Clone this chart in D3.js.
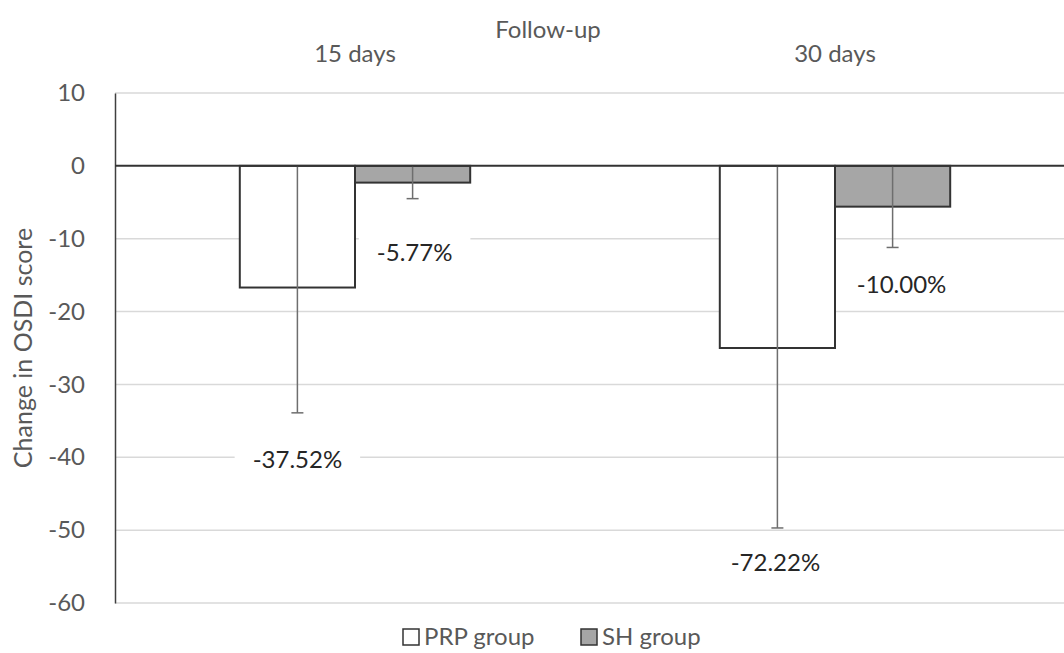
<!DOCTYPE html>
<html>
<head>
<meta charset="utf-8">
<script src="https://cdn.jsdelivr.net/npm/d3@7"></script>
<style>
  body { margin: 0; background: #fff; }
  svg { font-family: Lato, "Open Sans", sans-serif; }
</style>
</head>
<body>
<div id="chart"></div>
<script>
// data
var followups = ['15 days', '30 days'];
var groups = ['PRP group', 'SH group'];
var prpChange = [-16.7, -25.0];
var shChange = [-2.3, -5.6];
var prpErrLow = [-33.9, -49.7];   // lower end of error bar
var shErrLow = [-4.5, -11.2];
var prpPct = ['-37.52%', '-72.22%'];
var shPct = ['-5.77%', '-10.00%'];
var yTicks = [10, 0, -10, -20, -30, -40, -50, -60];

var width = 1064, height = 653;
var margin = {top: 93, right: -11, bottom: 50, left: 115};
var plotW = width - margin.left - margin.right;
var plotH = height - margin.top - margin.bottom;
var fs = '24px';

var svg = d3.select('#chart').append('svg')
  .attr('width', width)
  .attr('height', height);

var g = svg.append('g').attr('transform', 'translate(' + margin.left + ',' + margin.top + ')');

var y = d3.scaleLinear().domain([-60, 10]).range([plotH, 0]);
var x0 = d3.scaleBand().domain(followups).range([0, plotW]);
// bars take the middle ~48% of each category band
var x1 = d3.scaleBand().domain(groups)
  .range([x0.bandwidth() * 0.26, x0.bandwidth() * 0.74]);

// gridlines
g.selectAll('.grid').data(yTicks.filter(function(d) { return d !== 0; }))
  .enter().append('line')
  .attr('class', 'grid')
  .attr('x1', 0).attr('x2', plotW)
  .attr('y1', function(d) { return y(d); })
  .attr('y2', function(d) { return y(d); })
  .attr('stroke', '#d9d9d9')
  .attr('stroke-width', 1.5);

// y axis
var yAxis = g.append('g').call(d3.axisLeft(y).tickValues(yTicks).tickSize(0).tickPadding(30)
  .tickFormat(function(d) { return String(d); }));
yAxis.select('.domain').attr('stroke', '#404040').attr('stroke-width', 1.5);
yAxis.selectAll('text').attr('fill', '#595959').style('font-size', fs)
  .style('font-family', 'Lato, "Open Sans", sans-serif');

// percentage labels, hand placed like in the original (value units / px offsets)
var labelY = [[-40.3, -11.9], [-54.5, -16.3]];
var labelDx = [[0, 2], [-2, 9]];
var labels = [];
followups.forEach(function(f, i) {
  labels.push({text: prpPct[i], x: x0(f) + x1(groups[0]) + x1.bandwidth() / 2 + labelDx[i][0], v: labelY[i][0]});
  labels.push({text: shPct[i], x: x0(f) + x1(groups[1]) + x1.bandwidth() / 2 + labelDx[i][1], v: labelY[i][1]});
});

// white boxes go under the bars so they only knock out gridlines
var boxLayer = g.append('g');

var rows = followups.map(function(f, i) {
  return [
    {f: f, grp: groups[0], v: prpChange[i], lo: prpErrLow[i], fill: '#ffffff'},
    {f: f, grp: groups[1], v: shChange[i], lo: shErrLow[i], fill: '#a6a6a6'}
  ];
});

var cat = g.selectAll('.cat').data(rows).enter().append('g')
  .attr('class', 'cat')
  .attr('transform', function(d) { return 'translate(' + x0(d[0].f) + ',0)'; });

cat.selectAll('rect').data(function(d) { return d; }).enter().append('rect')
  .attr('x', function(d) { return x1(d.grp); })
  .attr('width', x1.bandwidth())
  .attr('y', y(0))
  .attr('height', function(d) { return y(d.v) - y(0); })
  .attr('fill', function(d) { return d.fill; })
  .attr('stroke', '#333')
  .attr('stroke-width', 2);

// error bars
var eb = cat.selectAll('.err').data(function(d) { return d; }).enter().append('g').attr('class', 'err');
eb.append('line')
  .attr('x1', function(d) { return x1(d.grp) + x1.bandwidth() / 2; })
  .attr('x2', function(d) { return x1(d.grp) + x1.bandwidth() / 2; })
  .attr('y1', y(0))
  .attr('y2', function(d) { return y(d.lo); })
  .attr('stroke', '#6e6e6e').attr('stroke-width', 1.5);
eb.append('line')
  .attr('x1', function(d) { return x1(d.grp) + x1.bandwidth() / 2 - 6; })
  .attr('x2', function(d) { return x1(d.grp) + x1.bandwidth() / 2 + 6; })
  .attr('y1', function(d) { return y(d.lo); })
  .attr('y2', function(d) { return y(d.lo); })
  .attr('stroke', '#6e6e6e').attr('stroke-width', 1.5);

// zero line
g.append('line')
  .attr('x1', 0).attr('x2', plotW)
  .attr('y1', y(0)).attr('y2', y(0))
  .attr('stroke', '#333').attr('stroke-width', 2);

var labTxt = g.selectAll('.pct').data(labels).enter().append('text')
  .attr('class', 'pct')
  .attr('x', function(d) { return d.x; })
  .attr('y', function(d) { return y(d.v); })
  .attr('dy', '0.35em')
  .attr('text-anchor', 'middle')
  .attr('fill', '#262626')
  .style('font-size', fs)
  .text(function(d) { return d.text; });

labTxt.each(function(d) {
  var bb = this.getBBox();
  boxLayer.append('rect')
    .attr('x', bb.x - 18).attr('y', bb.y - 2)
    .attr('width', bb.width + 36).attr('height', bb.height + 4)
    .attr('fill', '#fff');
});

// top category labels
g.selectAll('.ftxt').data(followups).enter().append('text')
  .attr('x', function(d) { return x0(d) + x0.bandwidth() / 2; })
  .attr('y', -31)
  .attr('text-anchor', 'middle')
  .attr('fill', '#595959')
  .style('font-size', fs)
  .text(function(d) { return d; });

svg.append('text')
  .attr('x', 548).attr('y', 38)
  .attr('text-anchor', 'middle')
  .attr('fill', '#595959')
  .style('font-size', fs)
  .text('Follow-up');

svg.append('text')
  .attr('transform', 'translate(32,' + (margin.top + plotH / 2) + ') rotate(-90)')
  .attr('text-anchor', 'middle')
  .attr('fill', '#595959')
  .style('font-size', '25px')
  .text('Change in OSDI score');

// legend
var legend = svg.append('g').attr('transform', 'translate(403,637)');
var lx = [0, 178];
groups.forEach(function(grp, i) {
  legend.append('rect')
    .attr('x', lx[i]).attr('y', -8)
    .attr('width', 16).attr('height', 16)
    .attr('fill', i ? '#a6a6a6' : '#fff')
    .attr('stroke', '#333').attr('stroke-width', 1.5);
  legend.append('text')
    .attr('x', lx[i] + 21).attr('y', 0)
    .attr('dy', '0.35em')
    .attr('fill', '#595959')
    .style('font-size', fs)
    .text(grp);
});
</script>
</body>
</html>
